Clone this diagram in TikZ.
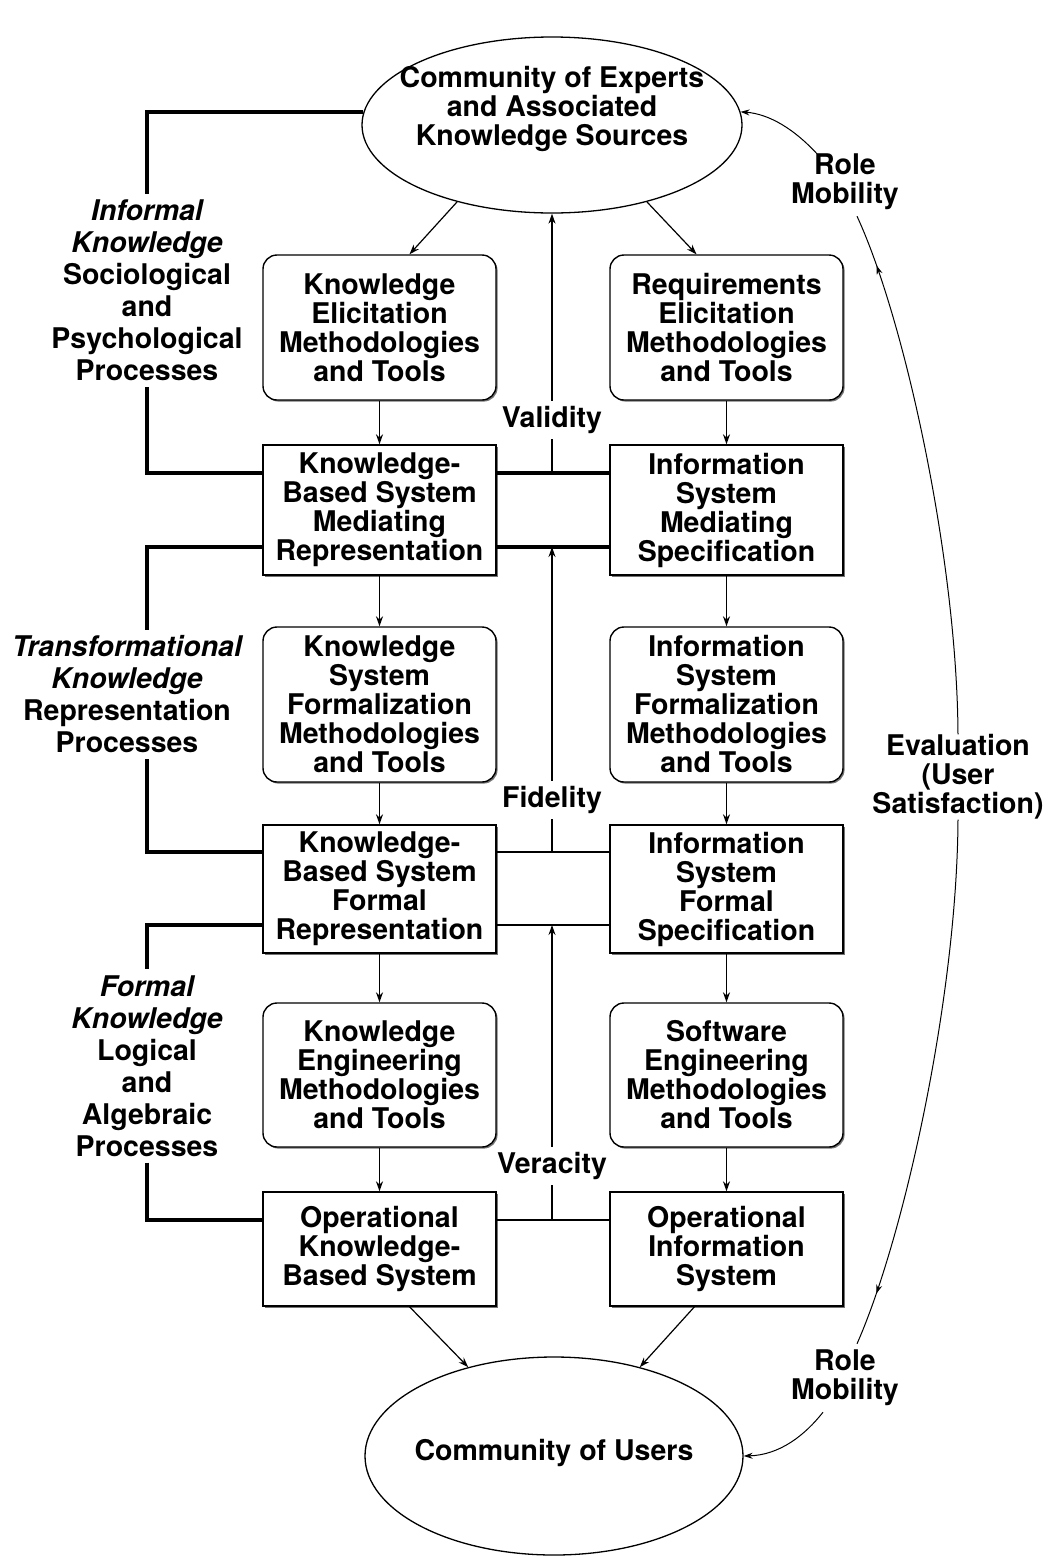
\documentclass[tikz,border=0pt]{standalone}
\usepackage{fontspec}
\setmainfont{TeX Gyre Heros}
\usetikzlibrary{arrows.meta,shapes.geometric,decorations.markings,shadows,calc}

\tikzset{
  txt/.style={font=\bfseries\fontsize{28.5}{29}\selectfont, align=center, inner sep=0pt},
  boxshadow/.style={drop shadow={shadow xshift=1.6pt, shadow yshift=-1.6pt, fill=black!55, opacity=1}},
  tool/.style={txt, draw, fill=white, line width=1.4pt, rounded corners=14pt,
               minimum width=233pt, boxshadow},
  rep/.style={txt, draw, fill=white, line width=1.4pt, minimum width=233pt, boxshadow},
  side/.style={font=\bfseries\fontsize{28.5}{32}\selectfont, align=center,
               inner sep=0pt, outer sep=6pt},
  community/.style={ellipse, draw, line width=1.3pt, inner sep=0pt},
  rail/.style={line width=3.6pt},
  thinrail/.style={line width=2.2pt},
  arr/.style={line width=1.2pt, -{Stealth[length=10pt,width=7pt]}},
  gauge/.style={txt, fill=white, inner sep=5pt},
  loopline/.style={line width=1pt},
  looptip/.style={loopline, -{Stealth[length=9pt,width=6pt]}},
  midarrow/.style={postaction={decorate}, decoration={markings,
      mark=at position #1 with {\arrow{Stealth[length=9pt,width=6pt]}}}},
}

\begin{document}
\begin{tikzpicture}[x=1pt, y=-1pt]
\useasboundingbox (0,0) rectangle (1050,1556);

% levels of the horizontal rails and the guide columns
\coordinate (rowTwoA) at (0,473);
\coordinate (rowTwoB) at (0,547);
\coordinate (rowFourA) at (0,852);
\coordinate (rowFourB) at (0,925);
\coordinate (rowSix) at (0,1220);
\coordinate (railx) at (147,0);
\coordinate (cx) at (552,0);

% the two communities
\node[community, minimum width=380pt, minimum height=176pt] (experts) at (552,125) {};
\node[txt] (expertsText) at (552,109) {Community of Experts\\and Associated\\Knowledge Sources};
\node[community, minimum width=378pt, minimum height=198pt] (users) at (554,1456) {};
\node[txt] (usersText) at (554,1453) {Community of Users};

% left column: knowledge-based system path
\node[tool, minimum height=145pt] (ke) at (379.5,327.5) {Knowledge\\Elicitation\\Methodologies\\and Tools};
\node[rep, minimum height=130pt] (kbMed) at (379.5,510) {Knowledge-\\Based System\\Mediating\\Representation};
\node[tool, minimum height=155pt] (ksf) at (379.5,704.5) {Knowledge\\System\\Formalization\\Methodologies\\and Tools};
\node[rep, minimum height=128pt] (kbFor) at (379.5,889) {Knowledge-\\Based System\\Formal\\Representation};
\node[tool, minimum height=144pt] (keng) at (379.5,1075) {Knowledge\\Engineering\\Methodologies\\and Tools};
\node[rep, minimum height=114pt] (opKbs) at (379.5,1249) {Operational\\Knowledge-\\Based System};

% right column: information system path
\node[tool, minimum height=145pt] (re) at (726.5,327.5) {Requirements\\Elicitation\\Methodologies\\and Tools};
\node[rep, minimum height=130pt] (isMed) at (726.5,510) {Information\\System\\Mediating\\Specification};
\node[tool, minimum height=155pt] (isf) at (726.5,704.5) {Information\\System\\Formalization\\Methodologies\\and Tools};
\node[rep, minimum height=128pt] (isFor) at (726.5,889) {Information\\System\\Formal\\Specification};
\node[tool, minimum height=144pt] (seng) at (726.5,1075) {Software\\Engineering\\Methodologies\\and Tools};
\node[rep, minimum height=114pt] (opIs) at (726.5,1249) {Operational\\Information\\System};

% side labels for the three kinds of knowledge
\node[side] (informal) at (147,290.5) {\itshape Informal\\\itshape Knowledge\\Sociological\\and\\Psychological\\Processes};
\node[side] (transf) at (127,694.5) {\itshape Transformational\\\itshape Knowledge\\Representation\\Processes};
\node[side] (formal) at (147,1066) {\itshape Formal\\\itshape Knowledge\\Logical\\and\\Algebraic\\Processes};

% brackets on the left
\draw[rail] (experts.176) -| (informal.north);
\draw[rail] (informal.south) |- (kbMed.west |- rowTwoA);
\draw[rail] (kbMed.west |- rowTwoB) -| (transf.north -| railx);
\draw[rail] (transf.south -| railx) |- (kbFor.west |- rowFourA);
\draw[rail] (kbFor.west |- rowFourB) -| (formal.north);
\draw[rail] (formal.south) |- (opKbs.west |- rowSix);

% rails between the two columns
\draw[rail] (kbMed.east |- rowTwoA) -- (isMed.west |- rowTwoA);
\draw[rail] (kbMed.east |- rowTwoB) -- (isMed.west |- rowTwoB);
\draw[thinrail] (kbFor.east |- rowFourA) -- (isFor.west |- rowFourA);
\draw[rail, line width=2.8pt] (kbFor.east |- rowFourB) -- (isFor.west |- rowFourB);
\draw[thinrail] (opKbs.east |- rowSix) -- (opIs.west |- rowSix);

% feedback arrows up the middle
\draw[arr] (cx |- rowTwoA) -- (experts.south);
\draw[arr] (cx |- rowFourA) -- (cx |- rowTwoB);
\draw[arr] (cx |- rowSix) -- (cx |- rowFourB);
\node[gauge] (validity) at (552,420) {Validity};
\node[gauge] (fidelity) at (552,800) {Fidelity};
\node[gauge] (veracity) at (552,1166) {Veracity};

% flow down each column
\draw[arr] (experts.219) -- ([xshift=30pt]ke.north);
\draw[arr] (experts.321) -- ([xshift=-30pt]re.north);
\draw[arr] (ke.south) -- (kbMed.north);
\draw[arr] (kbMed.south) -- (ksf.north);
\draw[arr] (ksf.south) -- (kbFor.north);
\draw[arr] (kbFor.south) -- (keng.north);
\draw[arr] (keng.south) -- (opKbs.north);
\draw[arr] (re.south) -- (isMed.north);
\draw[arr] (isMed.south) -- (isf.north);
\draw[arr] (isf.south) -- (isFor.north);
\draw[arr] (isFor.south) -- (seng.north);
\draw[arr] (seng.south) -- (opIs.north);
\draw[arr] ([xshift=30pt]opKbs.south) -- (users.134);
\draw[arr] ([xshift=-32pt]opIs.south) -- (users.46);

% evaluation loop on the right
\node[txt] (rmTop) at (845,182) {Role\\Mobility};
\node[txt] (rmBot) at (845,1378) {Role\\Mobility};
\node[txt] (eval) at (958,777) {Evaluation\\(User\\Satisfaction)};

\draw[looptip] ([xshift=-28pt]rmTop.north) .. controls (795,130) and (770,114) .. (experts.4);
\draw[loopline, midarrow=0.9] (eval.north) .. controls (957,560) and (905,320) .. ([xshift=12pt,yshift=-6pt]rmTop.south);
\draw[loopline, midarrow=0.9] (eval.south) .. controls (957,995) and (905,1235) .. ([xshift=12pt,yshift=6pt]rmBot.north);
\draw[looptip] ([xshift=-22pt,yshift=-6pt]rmBot.south) .. controls (805,1435) and (780,1455) .. (users.east);
\end{tikzpicture}
\end{document}
